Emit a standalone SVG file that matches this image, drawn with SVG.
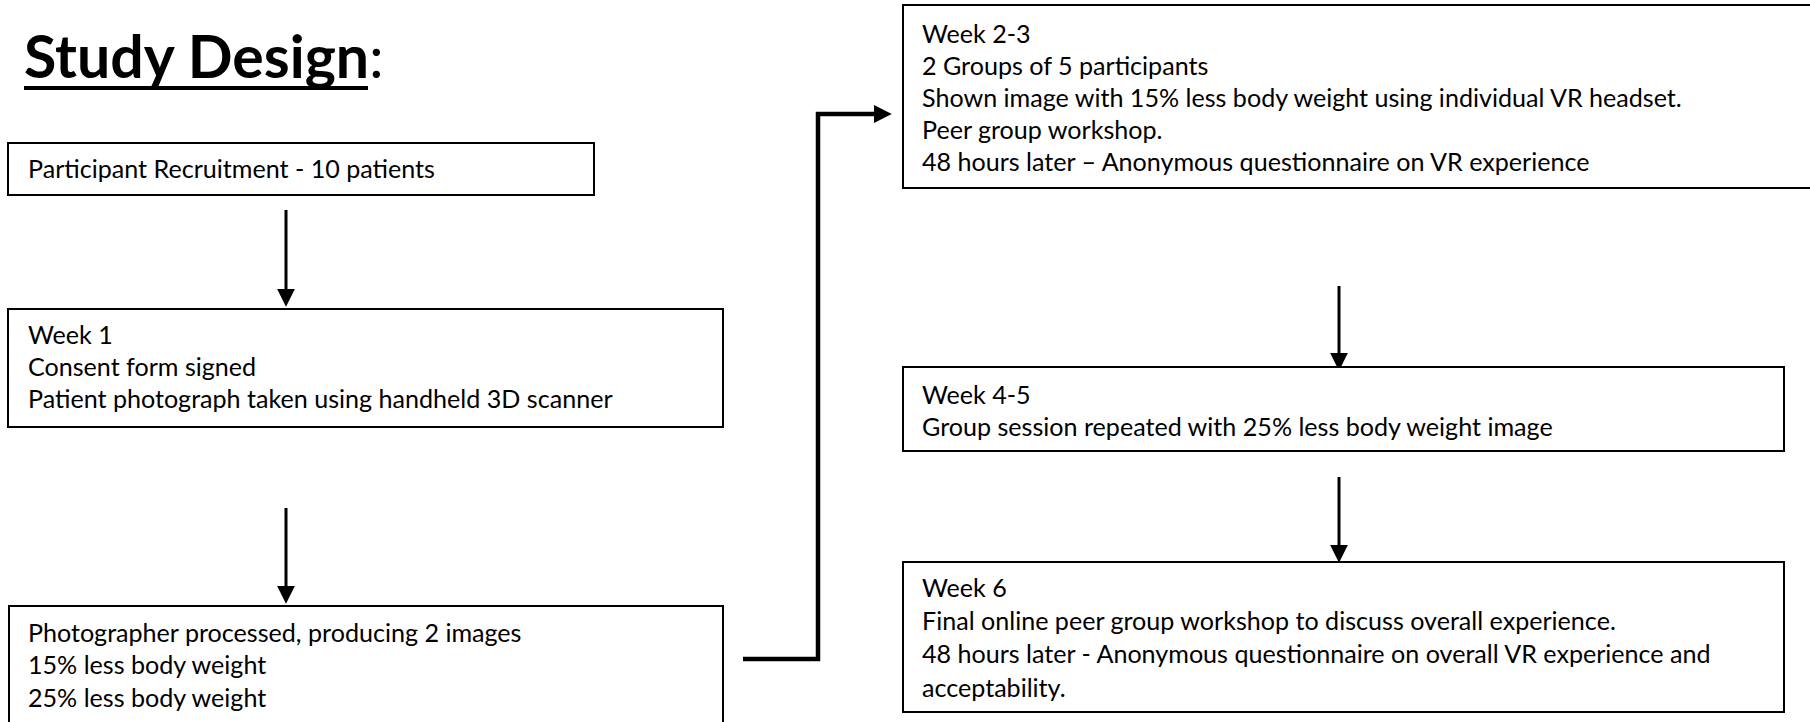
<svg xmlns="http://www.w3.org/2000/svg" width="1810" height="722" viewBox="0 0 1810 722">
<defs>
<style>
.box{fill:#fff;stroke:#000;stroke-width:2}
.t{font-family:Lato,"Liberation Sans",sans-serif;font-size:25.1px;fill:#000}
.title{font-family:Lato,"Liberation Sans",sans-serif;font-size:59px;font-weight:bold;fill:#000}
.arr{fill:none;stroke:#000;stroke-width:3}
.elb{fill:none;stroke:#000;stroke-width:4.5}
</style>
<marker id="ah" markerUnits="userSpaceOnUse" markerWidth="20" markerHeight="20" viewBox="0 -9 17 18" refX="0" refY="0" orient="auto">
<path d="M0,-8 L16,0 L0,8 Z" fill="#000"/>
</marker>
</defs>
<rect width="1810" height="722" fill="#fff"/>
<g id="title">
<text class="title" x="24" y="78">Study Design<tspan font-weight="normal">:</tspan></text>
<line x1="24" y1="88" x2="368" y2="88" stroke="#000" stroke-width="4"/>
</g>
<g id="connectors">
<path class="arr" d="M286,210 V289" marker-end="url(#ah)"/>
<path class="arr" d="M286,508 V586" marker-end="url(#ah)"/>
<path class="elb" d="M743,659 H818 V114 H874" marker-end="url(#ah)"/>
<path class="arr" d="M1339,286 V353" marker-end="url(#ah)"/>
<path class="arr" d="M1339,477 V545" marker-end="url(#ah)"/>
</g>
<g id="n1">
<rect class="box" x="8" y="143" width="586" height="52"/>
<text class="t" x="28" y="178">Participant Recruitment - 10 patients</text>
</g>
<g id="n2">
<rect class="box" x="8" y="309" width="715" height="118"/>
<text class="t" x="28" y="344">Week 1</text>
<text class="t" x="28" y="376">Consent form signed</text>
<text class="t" x="28" y="408">Patient photograph taken using handheld 3D scanner</text>
</g>
<g id="n3">
<rect class="box" x="9" y="606" width="714" height="130"/>
<text class="t" x="28" y="642">Photographer processed, producing 2 images</text>
<text class="t" x="28" y="674">15% less body weight</text>
<text class="t" x="28" y="707">25% less body weight</text>
</g>
<g id="n4">
<rect class="box" x="903" y="5" width="920" height="183"/>
<text class="t" x="922" y="43">Week 2-3</text>
<text class="t" x="922" y="75">2 Groups of 5 participants</text>
<text class="t" x="922" y="107">Shown image with 15% less body weight using individual VR headset.</text>
<text class="t" x="922" y="139">Peer group workshop.</text>
<text class="t" x="922" y="171">48 hours later – Anonymous questionnaire on VR experience</text>
</g>
<g id="n5">
<rect class="box" x="903" y="367" width="881" height="84"/>
<text class="t" x="922" y="404">Week 4-5</text>
<text class="t" x="922" y="436">Group session repeated with 25% less body weight image</text>
</g>
<g id="n6">
<rect class="box" x="903" y="562" width="881" height="150"/>
<text class="t" x="922" y="597">Week 6</text>
<text class="t" x="922" y="630">Final online peer group workshop to discuss overall experience.</text>
<text class="t" x="922" y="663">48 hours later - Anonymous questionnaire on overall VR experience and</text>
<text class="t" x="922" y="697">acceptability.</text>
</g>
</svg>
